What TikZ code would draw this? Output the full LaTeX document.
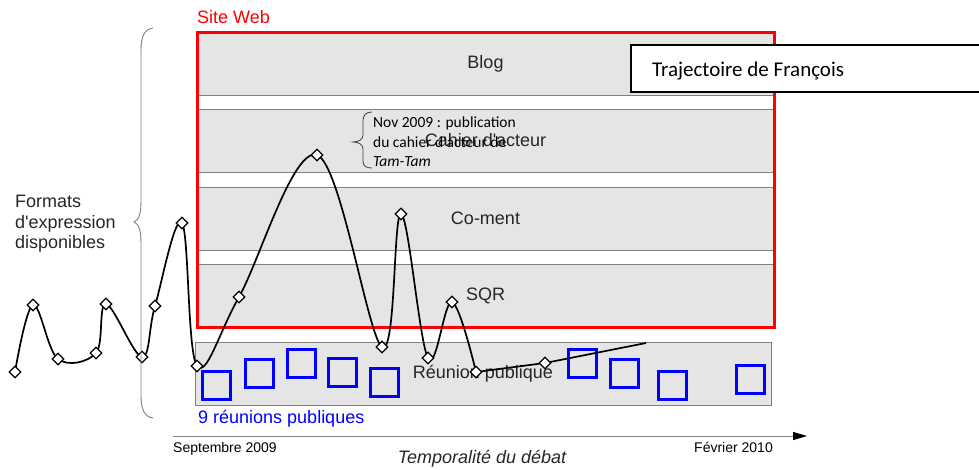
\documentclass[tikz,border=0pt]{standalone}
\usepackage{fontspec}
\setmainfont{Liberation Sans}
\newfontfamily\calfont{Carlito}
\usetikzlibrary{shapes.geometric,arrows.meta}
\begin{document}
\begin{tikzpicture}[x=1pt,y=-1pt,
  lbl/.style={font=\fontsize{18}{21}\selectfont, text=black!85},
  band/.style={draw=black!50, fill=black!10, line width=0.8pt, minimum width=577pt, minimum height=63pt, inner sep=0pt, lbl},
  sq/.style={draw=blue, line width=3pt, minimum size=28pt, inner sep=0pt},
  dia/.style={diamond, draw=black, fill=white, line width=1.3pt, minimum size=12pt, inner sep=0pt},
  ann/.style={font=\calfont\fontsize{15.5}{19.5}\selectfont, inner sep=0pt, anchor=base west},
  brc/.style={draw=black!50, line width=0.9pt},
  txt/.style={inner sep=0pt, anchor=base west},
]
\useasboundingbox (0,0) rectangle (979,469);
% bands of the web site
\node[band] (blog)   at (485.5,63.5)  {Blog};
\node[band] (cahier) at (485.5,140.5) {Cahier d\textquotesingle acteur};
\node[band] (coment) at (485.5,218.5) {Co-ment};
\node[band] (sqr)    at (485.5,295.5) {SQR};
\node[draw=red, line width=3pt, minimum width=577pt, minimum height=295pt, inner sep=0pt] (site) at (485.5,179.5) {};
\node[lbl, txt, text=red] (siteweb) at (197,23) {Site Web};
% public meetings
\node[band, minimum width=576pt] (reunion) at (483,373.5) {Réunion publique};
\node[sq] (s1) at (216.5,385) {};
\node[sq] (s2) at (259,373) {};
\node[sq] (s3) at (301,363.5) {};
\node[sq] (s4) at (342.5,372.5) {};
\node[sq] (s5) at (384.5,382) {};
\node[sq] (s6) at (582.5,363.5) {};
\node[sq] (s7) at (624,373.5) {};
\node[sq] (s8) at (672.5,385) {};
\node[sq] (s9) at (750,379.5) {};
\node[lbl, txt, text=blue] (nine) at (198,423) {9 réunions publiques};
% annotation
\draw[black!75, line width=0.8pt] (372,112) .. controls (366,112) and (363,115) .. (363,121) -- (363,135) .. controls (363,139) and (359,142) .. (353,142) .. controls (359,142) and (363,145) .. (363,149) -- (363,161) .. controls (363,166) and (366,168) .. (372,168);
\node[ann] (ann1) at (373,127) {Nov 2009 : publication};
\node[ann] (ann2) at (373,147) {du cahier d\textquotesingle acteur de};
\node[ann] (ann3) at (373,166) {\itshape Tam-Tam};
% trajectory
\coordinate (c1) at (15,372);
\coordinate (c2) at (33,305);
\coordinate (c3) at (58,359);
\coordinate (c4) at (96,353);
\coordinate (c5) at (106,304);
\coordinate (c6) at (142,357);
\coordinate (c7) at (155,306);
\coordinate (c8) at (182,223);
\coordinate (c9) at (197,366);
\coordinate (c10) at (239,297);
\coordinate (c11) at (317,155);
\coordinate (c12) at (382,347);
\coordinate (c13) at (401,214);
\coordinate (c14) at (428,358);
\coordinate (c15) at (452,302);
\coordinate (c16) at (476,372);
\coordinate (c17) at (545,363);
\coordinate (cend) at (646,343);
\draw[line width=1.7pt] plot[smooth, tension=0.6] coordinates {(c1) (c2) (c3) (c4) (c5) (c6) (c7) (c8) (c9) (c10) (c11) (c12) (c13) (c14) (c15) (c16)} -- (c17) -- (cend);
\foreach \i in {1,...,17} \node[dia] (d\i) at (c\i) {};
% legend box
\draw[line width=1.3pt, fill=white] (979,45) -- (631,45) -- (631,92) -- (979,92);
\node[txt, font=\calfont\fontsize{21}{25}\selectfont] (traj) at (652,76) {Trajectoire de François};
% left brace and label
\draw[brc] (153,28) .. controls (145,29) and (141,36) .. (141,50) -- (141,200) .. controls (141,214) and (139,220) .. (134,222) .. controls (139,224) and (141,230) .. (141,244) -- (141,396) .. controls (141,410) and (145,417) .. (153,418);
\node[lbl, txt] (f1) at (15,207) {Formats};
\node[lbl, txt] (f2) at (15,228) {d\textquotesingle expression};
\node[lbl, txt] (f3) at (15,248) {disponibles};
% time axis
\coordinate (ax0) at (173,436);
\coordinate (ax1) at (807,436);
\draw[black!50, line width=0.9pt, -{Triangle[length=14pt, width=8pt, color=black]}] (ax0) -- (ax1);
\node[txt, font=\fontsize{14}{16}\selectfont] (sept) at (173,452) {Septembre 2009};
\node[txt, anchor=base east, font=\fontsize{14}{16}\selectfont] (fev) at (773,452) {Février 2010};
\node[lbl, inner sep=0pt, anchor=base, font=\itshape\fontsize{18}{21}\selectfont] (temp) at (482,463) {Temporalité du débat};
\end{tikzpicture}
\end{document}
